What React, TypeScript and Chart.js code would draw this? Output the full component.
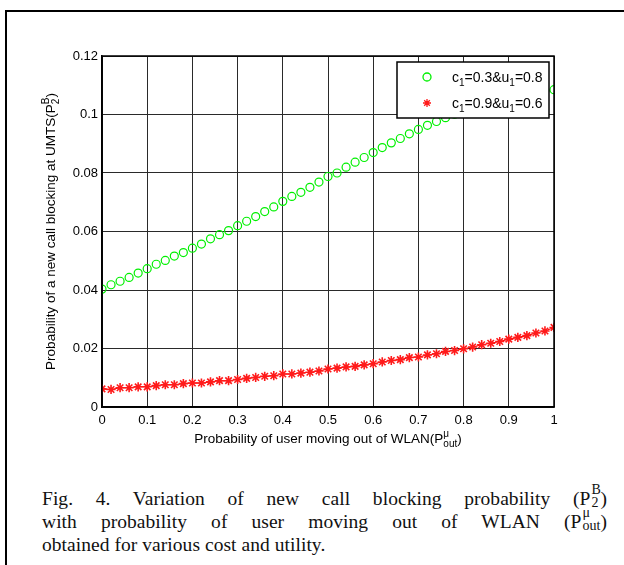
import React, { useEffect, useRef } from "react";
import { Chart, registerables } from "chart.js";

Chart.register(...registerables);

// ---------------- data ----------------
const xValues = [
  0, 0.02, 0.04, 0.06, 0.08, 0.1, 0.12, 0.14, 0.16, 0.18,
  0.2, 0.22, 0.24, 0.26, 0.28, 0.3, 0.32, 0.34, 0.36, 0.38,
  0.4, 0.42, 0.44, 0.46, 0.48, 0.5, 0.52, 0.54, 0.56, 0.58,
  0.6, 0.62, 0.64, 0.66, 0.68, 0.7, 0.72, 0.74, 0.76, 0.78,
  0.8, 0.82, 0.84, 0.86, 0.88, 0.9, 0.92, 0.94, 0.96, 0.98, 1,
];

// c1=0.3 & u1=0.8 (green circles)
const greenValues = [
  0.0403, 0.0418, 0.043, 0.0443, 0.0458, 0.0473, 0.0488, 0.0501, 0.0516, 0.0528,
  0.0543, 0.0557, 0.0575, 0.0589, 0.0603, 0.062, 0.0635, 0.0651, 0.0668, 0.0684,
  0.0703, 0.072, 0.0734, 0.0751, 0.0769, 0.0788, 0.08, 0.082, 0.0837, 0.0853,
  0.087, 0.0887, 0.0903, 0.0918, 0.0934, 0.0949, 0.0963, 0.0976, 0.0989, 0.1001,
  0.1012, 0.1022, 0.1032, 0.1041, 0.1049, 0.1057, 0.1064, 0.1071, 0.1076, 0.1081,
  0.1085,
];

// c1=0.9 & u1=0.6 (red stars with line)
const redValues = [
  0.0062, 0.006, 0.0066, 0.0066, 0.0069, 0.0069, 0.0073, 0.0076, 0.0076, 0.008,
  0.0082, 0.0082, 0.0086, 0.009, 0.009, 0.0094, 0.0098, 0.0101, 0.0105, 0.0107,
  0.0113, 0.0113, 0.0116, 0.0119, 0.0123, 0.013, 0.0133, 0.0137, 0.0139, 0.0144,
  0.0148, 0.0154, 0.0159, 0.0162, 0.0169, 0.0171, 0.0178, 0.0182, 0.019, 0.0193,
  0.0199, 0.0205, 0.0213, 0.0218, 0.0224, 0.0232, 0.0238, 0.0244, 0.0253, 0.026,
  0.0272,
];

const xTicks = [0, 0.1, 0.2, 0.3, 0.4, 0.5, 0.6, 0.7, 0.8, 0.9, 1];
const yTicks = [0, 0.02, 0.04, 0.06, 0.08, 0.1, 0.12];

const legendLabels = ["c_1=0.3&u_1=0.8", "c_1=0.9&u_1=0.6"];

type Run = { t: string } | { sub?: string; sup?: string };
const xTitle: Run[] = [
  { t: "Probability of user moving out of WLAN(P" },
  { sub: "out", sup: "\u03BC" },
  { t: ")" },
];
const yTitle: Run[] = [
  { t: "Probability of a new call blocking at UMTS(P" },
  { sub: "2", sup: "B" },
  { t: ")" },
];

// ---------------- helpers ----------------
const FONT = '"Liberation Sans", Arial, Helvetica, sans-serif';

function runsWidth(ctx: CanvasRenderingContext2D, runs: Run[], size: number) {
  const small = Math.round(size * 0.72);
  let w = 0;
  for (const r of runs) {
    if ("t" in r) {
      ctx.font = `${size}px ${FONT}`;
      w += ctx.measureText(r.t).width;
    } else {
      ctx.font = `${small}px ${FONT}`;
      w += Math.max(
        r.sub ? ctx.measureText(r.sub).width : 0,
        r.sup ? ctx.measureText(r.sup).width : 0
      );
    }
  }
  return w;
}

function drawRuns(
  ctx: CanvasRenderingContext2D,
  runs: Run[],
  x: number,
  y: number,
  size: number,
  align: "left" | "center",
  subDy: number,
  supDy: number
) {
  const small = Math.round(size * 0.72);
  const total = runsWidth(ctx, runs, size);
  let cx = align === "center" ? x - total / 2 : x;
  ctx.textAlign = "left";
  ctx.textBaseline = "alphabetic";
  for (const r of runs) {
    if ("t" in r) {
      ctx.font = `${size}px ${FONT}`;
      ctx.fillText(r.t, cx, y);
      cx += ctx.measureText(r.t).width;
    } else {
      ctx.font = `${small}px ${FONT}`;
      let w = 0;
      if (r.sup) {
        ctx.fillText(r.sup, cx, y + supDy);
        w = Math.max(w, ctx.measureText(r.sup).width);
      }
      if (r.sub) {
        ctx.fillText(r.sub, cx, y + subDy);
        w = Math.max(w, ctx.measureText(r.sub).width);
      }
      cx += w;
    }
  }
}

function labelRuns(label: string): Run[] {
  const parts = label.split(/_(.)/);
  return parts.map((p, i) => (i % 2 === 1 ? { sub: p } : { t: p }));
}

function drawMarker(
  ctx: CanvasRenderingContext2D,
  style: string,
  color: string,
  x: number,
  y: number,
  r: number
) {
  ctx.save();
  ctx.strokeStyle = color;
  ctx.lineWidth = 1.3;
  ctx.beginPath();
  if (style === "circle") {
    ctx.arc(x, y, r, 0, Math.PI * 2);
  } else {
    ctx.moveTo(x - r, y);
    ctx.lineTo(x + r, y);
    ctx.moveTo(x, y - r);
    ctx.lineTo(x, y + r);
    const d = r * 0.707;
    ctx.moveTo(x - d, y - d);
    ctx.lineTo(x + d, y + d);
    ctx.moveTo(x - d, y + d);
    ctx.lineTo(x + d, y - d);
  }
  ctx.stroke();
  ctx.restore();
}

const overlayPlugin = {
  id: "overlay",
  afterDatasetsDraw(chart: any) {
    const { ctx, chartArea: a } = chart;
    ctx.save();
    // axes box
    ctx.strokeStyle = "#000";
    ctx.lineWidth = 1.5;
    ctx.strokeRect(a.left, a.top, a.right - a.left, a.bottom - a.top);

    // legend
    const lw = 152;
    const lh = 56;
    const lx = a.right - lw - 5;
    const ly = a.top + 6;
    ctx.fillStyle = "#fff";
    ctx.fillRect(lx, ly, lw, lh);
    ctx.strokeStyle = "#000";
    ctx.lineWidth = 1.5;
    ctx.strokeRect(lx, ly, lw, lh);
    chart.data.datasets.forEach((ds: any, i: number) => {
      const yy = ly + 15 + i * 26;
      drawMarker(ctx, ds.pointStyle, ds.pointBorderColor, lx + 30, yy, 4);
      ctx.fillStyle = "#000";
      drawRuns(ctx, labelRuns(ds.label), lx + 55, yy + 5, 14, "left", 4, -6);
    });

    // axis titles
    ctx.fillStyle = "#000";
    drawRuns(ctx, xTitle, (a.left + a.right) / 2, 443, 13.5, "center", 4, -6);
    ctx.translate(55, (a.top + a.bottom) / 2);
    ctx.rotate(-Math.PI / 2);
    drawRuns(ctx, yTitle, 0, 0, 13.5, "center", 4, -6);
    ctx.restore();
  },
};

// ---------------- caption pieces ----------------
function Stack({ sup, sub, w }: { sup: string; sub: string; w: number }) {
  const s: React.CSSProperties = {
    position: "absolute",
    left: 1,
    fontSize: 14,
    lineHeight: "14px",
    whiteSpace: "nowrap",
  };
  return (
    <span
      style={{
        position: "relative",
        display: "inline-block",
        width: w,
        height: 0,
      }}
    >
      <span style={{ ...s, top: -22 }}>{sup}</span>
      <span style={{ ...s, top: -9 }}>{sub}</span>
    </span>
  );
}

export default function App() {
  const ref = useRef<HTMLCanvasElement>(null);

  useEffect(() => {
    const canvas = ref.current!;
    const chart = new Chart(canvas, {
      type: "scatter",
      data: {
        datasets: [
          {
            label: legendLabels[0],
            data: xValues.map((x, i) => ({ x, y: greenValues[i] })),
            showLine: false,
            pointStyle: "circle",
            pointRadius: 4,
            pointBorderWidth: 1.2,
            pointBorderColor: "#00f000",
            pointBackgroundColor: "rgba(0,0,0,0)",
            borderColor: "#00f000",
            backgroundColor: "rgba(0,0,0,0)",
          },
          {
            label: legendLabels[1],
            data: xValues.map((x, i) => ({ x, y: redValues[i] })),
            showLine: true,
            borderColor: "#ff0000",
            borderWidth: 1.1,
            pointStyle: "star",
            pointRadius: 4.6,
            pointBorderWidth: 1.6,
            pointBorderColor: "#ff1a1a",
            pointBackgroundColor: "#ff0000",
            backgroundColor: "#ff0000",
          },
        ],
      } as any,
      options: {
        animation: false,
        responsive: false,
        events: [],
        layout: { padding: { left: 40, right: 70, top: 56, bottom: 23 } },
        plugins: {
          legend: { display: false },
          tooltip: { enabled: false },
          title: { display: false },
        },
        scales: {
          x: {
            type: "linear",
            min: 0,
            max: 1,
            afterBuildTicks: (s: any) => {
              s.ticks = xTicks.map((v) => ({ value: v }));
            },
            afterFit: (s: any) => {
              s.height = 30;
            },
            ticks: {
              color: "#000",
              font: { family: FONT, size: 13 },
              padding: 6,
              maxRotation: 0,
              autoSkip: false,
              callback: (v: any) => String(v),
            },
            grid: { color: "#2a2a2a", lineWidth: 1, drawTicks: false },
            border: { display: true, color: "#000", width: 1.5 },
          },
          y: {
            type: "linear",
            min: 0,
            max: 0.12,
            afterBuildTicks: (s: any) => {
              s.ticks = yTicks.map((v) => ({ value: v }));
            },
            afterFit: (s: any) => {
              s.width = 62;
            },
            ticks: {
              color: "#000",
              font: { family: FONT, size: 13 },
              padding: 4,
              autoSkip: false,
              callback: (v: any) => String(v),
            },
            grid: { color: "#2a2a2a", lineWidth: 1, drawTicks: false },
            border: { display: true, color: "#000", width: 1.5 },
          },
        },
      } as any,
      plugins: [overlayPlugin],
    });
    return () => chart.destroy();
  }, []);

  return (
    <div
      style={{
        position: "absolute",
        left: 0,
        top: 0,
        width: 624,
        height: 565,
        overflow: "hidden",
        background: "#fff",
      }}
    >
      <div
        style={{
          position: "absolute",
          left: 5,
          top: 10,
          width: 800,
          height: 800,
          borderLeft: "2px solid #000",
          borderTop: "2px solid #000",
        }}
      />
      <canvas
        ref={ref}
        width={624}
        height={460}
        style={{ position: "absolute", left: 0, top: 0, width: 624, height: 460 }}
      />
      <div
        style={{
          position: "absolute",
          left: 42,
          top: 487,
          width: 565,
          fontFamily: '"Liberation Serif", "Times New Roman", serif',
          fontSize: 19.5,
          lineHeight: "23px",
          letterSpacing: "0.05px",
          color: "#111",
        }}
      >
        <div style={{ textAlign: "justify", textAlignLast: "justify" }}>
          Fig. 4. Variation of new call blocking probability (P
          <Stack sup="B" sub="2" w={10} />)
        </div>
        <div style={{ textAlign: "justify", textAlignLast: "justify" }}>
          with probability of user moving out of WLAN (P
          <Stack sup={"\u03BC"} sub="out" w={19} />)
        </div>
        <div>obtained for various cost and utility.</div>
      </div>
    </div>
  );
}
